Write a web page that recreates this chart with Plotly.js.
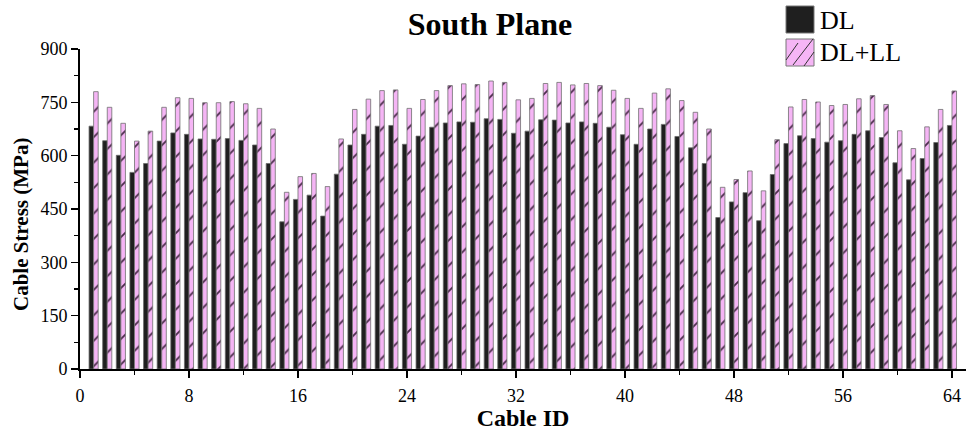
<!DOCTYPE html>
<html>
<head>
<meta charset="utf-8">
<script src="https://cdn.plot.ly/plotly-3.0.1.min.js"></script>
<style>html,body{margin:0;padding:0;background:#fff;}#chart{width:966px;height:431px;}</style>
</head>
<body>
<div id="chart"></div>
<script>
const cableIds = Array.from({length: 64}, (_, i) => i + 1);
const dl = [683, 642, 601, 553, 578, 641, 664, 660, 647, 646, 648, 643, 630, 578, 414, 477,
            489, 430, 548, 630, 660, 683, 685, 632, 655, 680, 692, 695, 694, 704, 702, 663,
            669, 701, 700, 692, 695, 691, 680, 659, 632, 675, 688, 654, 622, 578, 426, 470,
            496, 417, 547, 634, 656, 648, 638, 642, 660, 670, 651, 580, 532, 592, 637, 685];
const dlll = [780, 736, 691, 641, 669, 736, 763, 761, 749, 749, 752, 746, 733, 675, 497, 541,
              550, 513, 647, 730, 759, 783, 785, 733, 758, 783, 797, 802, 800, 810, 806, 757,
              761, 803, 806, 799, 803, 797, 784, 761, 733, 776, 788, 755, 722, 675, 511, 533,
              557, 501, 645, 737, 758, 751, 741, 744, 760, 769, 744, 670, 620, 681, 730, 782];
const xTicks = [0, 8, 16, 24, 32, 40, 48, 56, 64];
const yTicks = [0, 150, 300, 450, 600, 750, 900];
const seriesNames = ['DL', 'DL+LL'];

const FONT = 'Liberation Serif, Times New Roman, serif';

const traces = [
  {
    type: 'bar', name: seriesNames[0], x: cableIds, y: dl,
    marker: {color: '#1f1f1f', line: {color: '#6a6a6a', width: 0.8}},
    showlegend: false
  },
  {
    type: 'bar', name: seriesNames[1], x: cableIds, y: dlll,
    marker: {color: '#f5b5f5', line: {color: '#707070', width: 0.8},
             pattern: {shape: '/', fgcolor: '#4a2a4a', bgcolor: '#f5b5f5', size: 18, solidity: 0.1}},
    showlegend: false
  }
];

// legend geometry in paper coords (plot domain: x 80..966 px, y 369..49 px)
const px = v => (v - 80) / 886;
const py = v => (369 - v) / 320;
const shapes = [
  {type: 'rect', xref: 'paper', yref: 'paper', x0: px(786), x1: px(814), y0: py(33), y1: py(6),
   fillcolor: '#1f1f1f', line: {color: '#777', width: 1}},
  {type: 'rect', xref: 'paper', yref: 'paper', x0: px(786), x1: px(814), y0: py(66), y1: py(39),
   fillcolor: '#f5b5f5', line: {color: '#777', width: 1}},
  {type: 'line', xref: 'paper', yref: 'paper', x0: px(786), x1: px(798), y0: py(60), y1: py(43), line: {color: '#333', width: 1}},
  {type: 'line', xref: 'paper', yref: 'paper', x0: px(793), x1: px(813), y0: py(65), y1: py(39), line: {color: '#333', width: 1}},
  {type: 'line', xref: 'paper', yref: 'paper', x0: px(804), x1: px(814), y0: py(66), y1: py(52), line: {color: '#333', width: 1}}
];

const annotations = [
  {text: seriesNames[0], xref: 'paper', yref: 'paper', x: px(818), y: py(20), xanchor: 'left', yanchor: 'middle',
   showarrow: false, font: {family: FONT, size: 26, color: '#000'}},
  {text: seriesNames[1], xref: 'paper', yref: 'paper', x: px(818), y: py(53), xanchor: 'left', yanchor: 'middle',
   showarrow: false, font: {family: FONT, size: 26, color: '#000'}},
  {text: 'Cable Stress (MPa)', xref: 'paper', yref: 'paper', x: px(21), y: py(225), xanchor: 'center', yanchor: 'middle',
   textangle: -90, showarrow: false, font: {family: FONT, size: 21, color: '#000', weight: 'bold'}}
];

const layout = {
  width: 966, height: 431,
  margin: {l: 80, r: 0, t: 49, b: 62},
  paper_bgcolor: '#fff', plot_bgcolor: '#fff',
  font: {family: FONT, color: '#000', size: 18},
  title: {text: 'South Plane', x: 490 / 966, xanchor: 'center', xref: 'container',
          y: 1 - 24 / 431, yanchor: 'middle', yref: 'container',
          font: {family: FONT, size: 32, weight: 'bold', color: '#000'}},
  barmode: 'group', bargap: 0.33, bargroupgap: 0,
  showlegend: false,
  xaxis: {
    range: [0, 65.03], tickvals: xTicks, ticktext: xTicks.map(String),
    ticks: 'outside', ticklen: 7, tickwidth: 1.5, tickcolor: '#000', ticklabelstandoff: 3,
    minor: {dtick: 4, tick0: 0, ticks: 'outside', ticklen: 4, tickwidth: 1.5, tickcolor: '#000'},
    showline: true, linecolor: '#000', linewidth: 1.8, showgrid: false, zeroline: false,
    tickfont: {family: FONT, size: 18, color: '#000'},
    title: {text: 'Cable ID', standoff: 2, font: {family: FONT, size: 24, weight: 'bold', color: '#000'}}
  },
  yaxis: {
    range: [0, 900], tickvals: yTicks, ticktext: yTicks.map(String),
    ticks: 'outside', ticklen: 7, tickwidth: 1.5, tickcolor: '#000',
    minor: {dtick: 75, tick0: 0, ticks: 'outside', ticklen: 4, tickwidth: 1.5, tickcolor: '#000'},
    showline: true, linecolor: '#000', linewidth: 1.8, showgrid: false, zeroline: false,
    tickfont: {family: FONT, size: 18, color: '#000'}
  },
  shapes: shapes,
  annotations: annotations
};

Plotly.newPlot('chart', traces, layout, {displayModeBar: false, staticPlot: true});
</script>
</body>
</html>
